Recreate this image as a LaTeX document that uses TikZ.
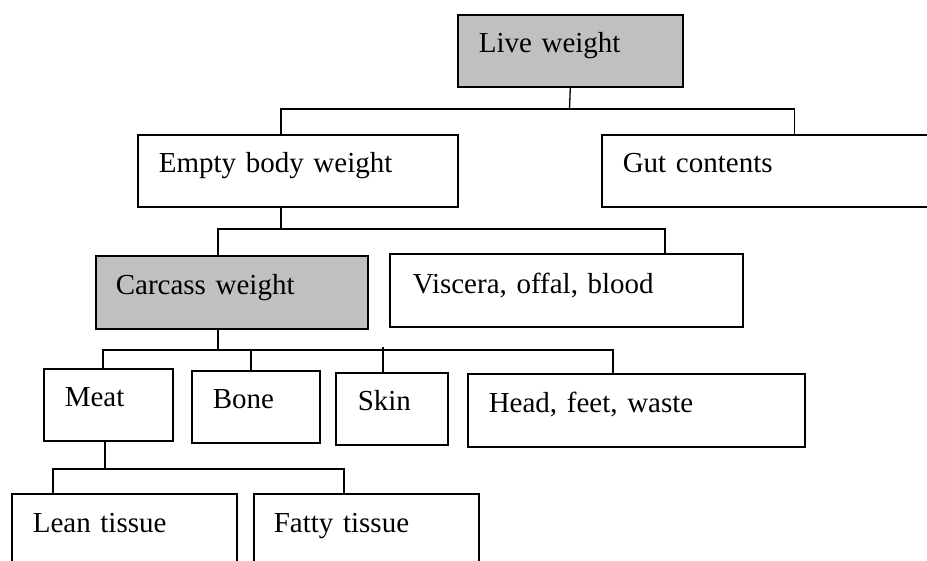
\documentclass[tikz,border=0pt]{standalone}
\usepackage{fontspec}
\setmainfont{Liberation Serif}
\usetikzlibrary{positioning}

\begin{document}
\begin{tikzpicture}[x=1pt, y=-1pt,
  box/.style={rectangle, draw=black, line width=1.6pt, anchor=north west, align=left,
    inner xsep=21pt, inner ysep=0pt, text height=38pt, text depth=34pt,
    font=\fontsize{29}{34}\selectfont},
  share/.style={box, fill={rgb,255:red,192;green,192;blue,192}},
  conn/.style={draw=black, line width=1.3pt}
]
\useasboundingbox (0,0) rectangle (927,560);
\clip (0,0) rectangle (927,560);

% Whole animal
\node[share, text width=183pt] (live) at (457,14) {Live weight};

% Empty body and gut
\node[box, text width=278pt] (ebw) at (137,134) {Empty body weight};
\node[box, text width=344pt] (gut) at (601,134) {Gut contents};

% Carcass and viscera
\node[share, text width=232pt, inner xsep=20pt, text height=39pt] (carcass) at (95,255) {Carcass weight};
\node[box, text width=307pt, inner xsep=23pt, text height=40pt, text depth=33pt] (viscera) at (389,253) {Viscera, offal, blood};

% Carcass parts
\node[box, text width=87pt] (meat) at (43,368) {Meat};
\node[box, text width=86pt] (bone) at (191,370) {Bone};
\node[box, text width=68pt, inner xsep=22pt] (skin) at (335,372) {Skin};
\node[box, text width=295pt, text height=39pt] (head) at (467,373) {Head, feet, waste};

% Meat parts
\node[box, text width=183pt, text height=39pt, text depth=41pt] (lean) at (11,493) {Lean tissue};
\node[box, text width=185pt, inner xsep=20pt, text height=39pt, text depth=41pt] (fatty) at (253,493) {Fatty tissue};

% Connections
\coordinate (j1) at (569.5,109);
\draw[conn] (live.south) -- (j1);
\draw[conn] ([xshift=144pt]ebw.north west) |- (j1) -| (gut.north);

\coordinate (j2) at (281,229);
\draw[conn] ([xshift=144pt]ebw.south west) -- (j2);
\draw[conn] ([xshift=123pt]carcass.north west) |- (j2) -| ([xshift=276pt]viscera.north west);

\coordinate (j3) at (218,350);
\draw[conn] ([xshift=123pt]carcass.south west) -- (j3);
\draw[conn] ([xshift=60pt]meat.north west) |- (j3) -| ([xshift=146pt]head.north west);
\draw[conn] ([xshift=60pt]bone.north west) -- ([xshift=60pt]bone.north west |- j3);
\draw[conn] ([xshift=48pt]skin.north west) -- ([xshift=48pt,yshift=3pt]skin.north west |- j3);

\coordinate (j4) at (105,469);
\draw[conn] ([xshift=62pt]meat.south west) -- (j4);
\draw[conn] ([xshift=42pt]lean.north west) |- (j4) -| ([xshift=91pt]fatty.north west);

\end{tikzpicture}
\end{document}
